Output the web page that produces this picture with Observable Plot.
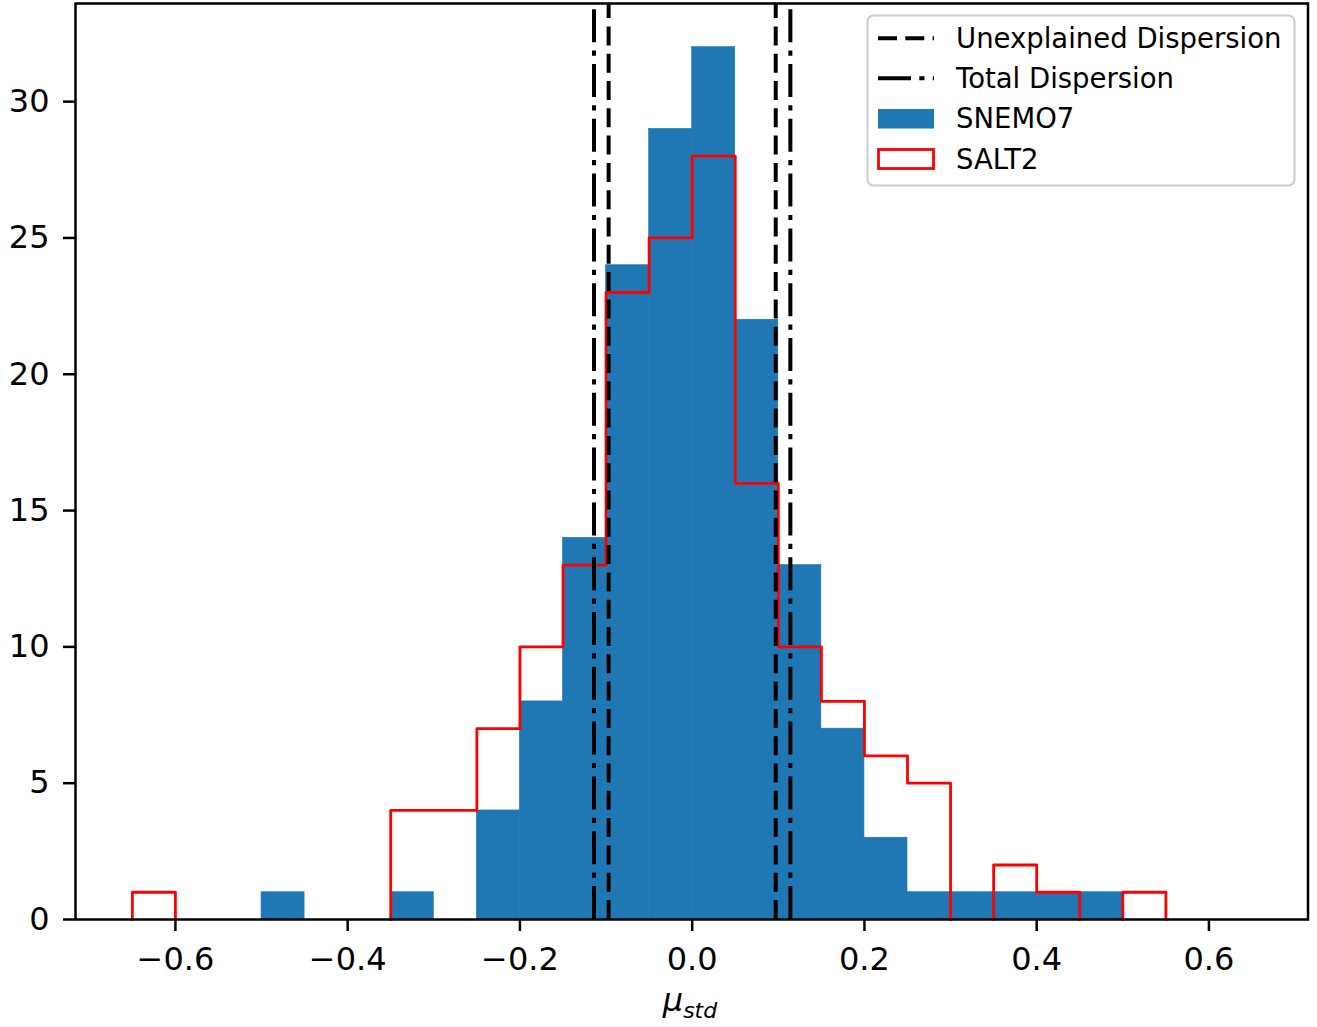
<!DOCTYPE html>
<html><head><meta charset="utf-8">
<script src="https://cdn.jsdelivr.net/npm/d3@7"></script>
<script src="https://cdn.jsdelivr.net/npm/@observablehq/plot@0.6"></script>
<style>
body{margin:0;background:#fff;}
#chart{width:1317px;height:1027px;}
</style>
</head><body><div id="chart"></div>
<script>
// ---- data ----
const binEdges = [-0.65,-0.60,-0.55,-0.50,-0.45,-0.40,-0.35,-0.30,-0.25,-0.20,-0.15,-0.10,-0.05,
                  0.00,0.05,0.10,0.15,0.20,0.25,0.30,0.35,0.40,0.45,0.50,0.55];
const snemo7Counts = [0,0,0,1,0,0,1,0,4,8,14,24,29,32,22,13,7,3,1,1,1,1,1,0];
const salt2Counts  = [1,0,0,0,0,0,4,4,7,10,13,23,25,28,16,10,8,6,5,0,2,1,0,1];
const unexplainedDispersion = [-0.097, 0.097];
const totalDispersion = [-0.114, 0.114];
const xTicks = [-0.6,-0.4,-0.2,0,0.2,0.4,0.6];
const yTicks = [0,5,10,15,20,25,30];
const xDomain = [-0.716, 0.715];
const yDomain = [0, 33.6];
const seriesNames = ["Unexplained Dispersion","Total Dispersion","SNEMO7","SALT2"];

// ---- derived tables ----
const bins = snemo7Counts.map((c,i)=>({x1:binEdges[i], x2:binEdges[i+1], snemo:c, salt:salt2Counts[i]}));
// step outline of SALT2, split into pieces so that nothing runs along the baseline
const saltStep = [];
let grp = 0, open = false;
bins.forEach(d=>{
  if (d.salt > 0) {
    if (!open) { saltStep.push({x:d.x1, y:0, g:grp}); open = true; }
    saltStep.push({x:d.x1, y:d.salt, g:grp});
    saltStep.push({x:d.x2, y:d.salt, g:grp});
  } else if (open) {
    saltStep.push({x:d.x1, y:0, g:grp});
    open = false; grp++;
  }
});
if (open) saltStep.push({x:bins[bins.length-1].x2, y:0, g:grp});

const blue = "#1f77b4";
const dashed = "19,8.3";
const dashDot = "33,8.3,5.2,8.3";

const chart = Plot.plot({
  width:1317, height:1027,
  marginLeft:75, marginRight:9.5, marginTop:3, marginBottom:108,
  style:{fontFamily:"DejaVu Sans", color:"black", background:"white"},
  x:{domain:xDomain},
  y:{domain:yDomain},
  marks:[
    Plot.rectY(bins.filter(d=>d.snemo>0), {x1:"x1", x2:"x2", y:"snemo", fill:blue, stroke:blue, strokeWidth:0.6}),
    Plot.line(saltStep, {x:"x", y:"y", z:"g", stroke:"red", strokeWidth:2.8}),
    Plot.ruleX(unexplainedDispersion, {x:d=>d, y1:yDomain[0], y2:yDomain[1], stroke:"black", strokeWidth:4, strokeDasharray:dashed}),
    Plot.ruleX(totalDispersion, {x:d=>d, y1:yDomain[0], y2:yDomain[1], stroke:"black", strokeWidth:4, strokeDasharray:dashDot}),
    Plot.axisX(xTicks, {tickSize:12, tickPadding:16, tickFormat:d3.format(".1f"), fontSize:32, strokeWidth:2.5, label:null}),
    Plot.axisY(yTicks, {tickSize:12, tickPadding:14, tickFormat:d3.format("d"), fontSize:32, strokeWidth:2.5, label:null}),
    Plot.frame({stroke:"black", strokeWidth:2.5})
  ]
});
document.getElementById("chart").appendChild(chart);

const svg = d3.select(chart);
// x label  mu_std
const xl = svg.append("text")
  .attr("x", 690).attr("y", 1011)
  .attr("text-anchor","middle")
  .attr("font-family","DejaVu Sans").attr("font-style","italic").attr("fill","black");
xl.append("tspan").attr("font-size",32).text("μ");
xl.append("tspan").attr("font-size",22).attr("dy",7).text("std");

// legend
const lg = svg.append("g").attr("font-family","DejaVu Sans").attr("font-size",27.5).attr("text-anchor","start");
lg.append("rect").attr("x",867.5).attr("y",15.5).attr("width",427).attr("height",170).attr("rx",6)
  .attr("fill","white").attr("fill-opacity",0.8).attr("stroke","#cccccc").attr("stroke-width",2);
const rowY = [38.3, 78.3, 118.7, 159];
lg.append("line").attr("x1",878).attr("x2",934).attr("y1",rowY[0]).attr("y2",rowY[0])
  .attr("stroke","black").attr("stroke-width",4).attr("stroke-dasharray",dashed);
lg.append("line").attr("x1",878).attr("x2",934).attr("y1",rowY[1]).attr("y2",rowY[1])
  .attr("stroke","black").attr("stroke-width",4).attr("stroke-dasharray",dashDot);
lg.append("rect").attr("x",878).attr("y",rowY[2]-9.7).attr("width",56).attr("height",19.5).attr("fill",blue);
lg.append("rect").attr("x",878.5).attr("y",rowY[3]-9.5).attr("width",55).attr("height",19)
  .attr("fill","none").attr("stroke","red").attr("stroke-width",2.8);
seriesNames.forEach((name,i)=>{
  lg.append("text").attr("x",956).attr("y",rowY[i]+9.5).attr("fill","black").attr("text-anchor","start").text(name);
});
</script>
</body></html>
